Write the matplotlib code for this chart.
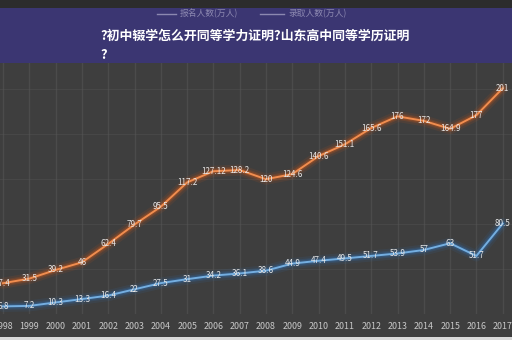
import matplotlib
matplotlib.use("Agg")
import matplotlib.pyplot as plt
from matplotlib.patches import Rectangle
from matplotlib.lines import Line2D

plt.rcParams['font.family'] = ['Noto Sans CJK SC', 'DejaVu Sans']

years = list(range(1998, 2018))
applicants = [27.4, 31.5, 39.2, 46, 62.4, 79.7, 95.5, 117.2, 127.12, 128.2,
              120, 124.6, 140.6, 151.1, 165.6, 176, 172, 164.9, 177, 201]
admitted = [6.8, 7.2, 10.3, 13.3, 16.4, 22, 27.5, 31, 34.2, 36.1,
            38.6, 44.9, 47.4, 49.5, 51.7, 53.9, 57, 63, 51.7, 80.5]
series_names = ['报名人数(万人)', '录取人数(万人)']
title_line1 = '?初中辍学怎么开同等学力证明?山东高中同等学历证明'
title_line2 = '?'

W, H = 512, 340
fig = plt.figure(figsize=(W / 100, H / 100), dpi=100)
bg = '#3e3e3e'
fig.patch.set_facecolor(bg)

bottom_px, top_px = 314, 63
ax = fig.add_axes([0, (H - bottom_px) / H, 1, (bottom_px - top_px) / H])
ax.set_facecolor(bg)
ppy = 26.3
ax.set_xlim(1998 - 3 / ppy, 1998 + (W - 3) / ppy)
ax.set_ylim(0, (bottom_px - top_px) / 1.123)

for s in ax.spines.values():
    s.set_visible(False)
ax.set_xticks(years)
ax.set_xticklabels([str(y) for y in years])
ax.tick_params(axis='x', length=0, pad=6, labelsize=6.4, colors='#c8c8c8')
ax.set_yticks([])
ax.grid(axis='x', color='#555555', linewidth=1.0, alpha=0.6)
for yv in [40, 80, 120, 160, 200]:
    ax.axhline(yv, color='#4e4e4e', linewidth=0.8, alpha=0.6, zorder=0)

orange = '#f08d4f'
blue = '#74aee0'
for vals, col, glow in [(applicants, orange, '#c8561a'), (admitted, blue, '#2f6fb0')]:
    for lw, a in [(8, 0.12), (5, 0.2), (3.2, 0.3)]:
        ax.plot(years, vals, color=glow, linewidth=lw, alpha=a, solid_capstyle='round', zorder=2)
    ax.plot(years, vals, color=col, linewidth=1.4, zorder=3)
    for x, v in zip(years, vals):
        ax.text(x, v, f'{v:g}', ha='center', va='center', fontsize=5.8,
                color='#e6e6e6', zorder=4)

fig.patches.append(Rectangle((0, (H - 8) / H), 1, 8 / H, transform=fig.transFigure,
                             facecolor='#2c2c2c', edgecolor='none', zorder=5))
fig.patches.append(Rectangle((0, (H - 63) / H), 1, 55 / H, transform=fig.transFigure,
                             facecolor='#3b3672', edgecolor='none', zorder=5))
fig.patches.append(Rectangle((0, 0), 1, 3 / H, transform=fig.transFigure,
                             facecolor='#d8d8d8', edgecolor='none', zorder=5))

ly = (H - 14) / H
leg_col = '#8c88b0'
fig.add_artist(Line2D([157 / W, 176 / W], [ly, ly], color=leg_col, linewidth=1, zorder=6))
fig.text(180 / W, ly, series_names[0], fontsize=6.3, color=leg_col, va='center', zorder=6)
fig.add_artist(Line2D([260 / W, 284 / W], [ly, ly], color=leg_col, linewidth=1, zorder=6))
fig.text(288 / W, ly, series_names[1], fontsize=6.3, color=leg_col, va='center', zorder=6)

fig.text(100 / W, (H - 36) / H, title_line1, fontsize=9.3, fontweight='bold',
         color='white', va='center', zorder=6)
fig.text(100 / W, (H - 55) / H, title_line2, fontsize=9.3, fontweight='bold',
         color='white', va='center', zorder=6)

fig.savefig('out.png', dpi=100, facecolor=fig.get_facecolor())
